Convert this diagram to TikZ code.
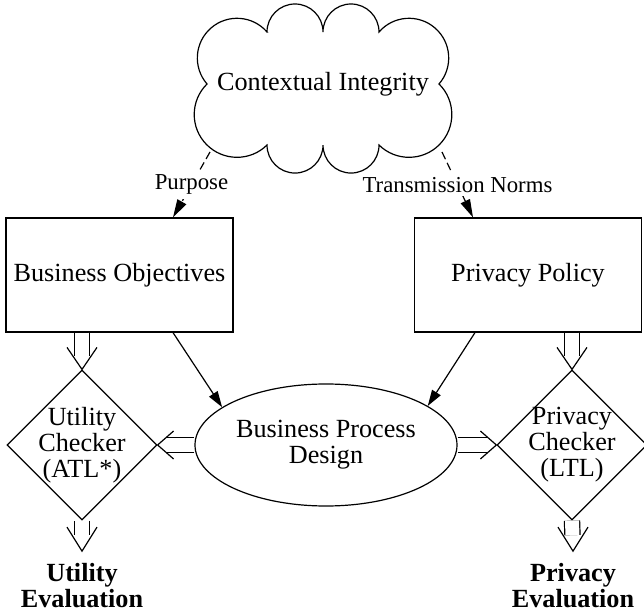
\documentclass[tikz,border=0pt]{standalone}
\usepackage{fontspec}
\setmainfont{Liberation Serif}
\usepackage{tikz}
\usetikzlibrary{shapes.geometric,arrows.meta}

\begin{document}
\begin{tikzpicture}[x=0.5pt,y=-0.5pt,
			line width=0.6pt,
			every node/.style={font=\fontsize{13.1pt}{13pt}\selectfont},
			box/.style={rectangle, draw, minimum width=113.5pt, minimum height=57pt, inner sep=0pt},
			proc/.style={ellipse, draw, align=center, minimum width=131pt, minimum height=61pt, inner sep=0pt},
			checker/.style={diamond, draw, align=center, minimum width=75pt, minimum height=75pt, inner sep=-2pt},
			result/.style={align=center, inner sep=6pt, font=\fontsize{13.1pt}{13pt}\selectfont\bfseries},
			edgelbl/.style={fill=white, inner sep=2pt, font=\fontsize{11.4pt}{12pt}\selectfont},
			cloudedge/.style={dash pattern=on 4pt off 2pt, -{Triangle[length=9pt,width=5pt]}},
			single/.style={-{Triangle[length=8pt,width=5pt]}},
			dbl/.style={double, double distance=7pt, shorten >=#1},
			dbl/.default=5pt,
			]
			\useasboundingbox (0,0) rectangle (644,615);
			%Nodes
				\node				(ci)			at (323,84)		{Contextual Integrity};
				\node[box]			(bizobj)		at (119.5,275)	{Business Objectives};
				\node[box]			(privpol)		at (528,275)	{Privacy Policy};
				\node[proc]		(bpd)			at (326,445)	{Business Process\\Design};
				\node[checker]		(utilchk)		at (82,445)		{Utility\\Checker\\(ATL*)};
				\node[checker]		(privchk)		at (572,445)	{Privacy\\Checker\\(LTL)};
				\node[result]		(utileval)		at (82,586)		{Utility\\Evaluation};
				\node[result]		(priveval)		at (573,586)	{Privacy\\Evaluation};

			%Cloud
				\draw (267,32) arc[start angle=180, end angle=360, radius=28]
					arc[start angle=180, end angle=360, radius=28]
					arc[start angle=220.9, end angle=400.9, radius=39.7]
					arc[start angle=-45.5, end angle=134.5, radius=42.8]
					arc[start angle=0, end angle=180, radius=28]
					arc[start angle=0, end angle=180, radius=28]
					arc[start angle=45.5, end angle=225.5, radius=42.8]
					arc[start angle=139.1, end angle=319.1, radius=39.7] -- cycle;
				\coordinate (ci-purpose)	at (210,152);
				\coordinate (ci-norms)		at (442,152);

			%Lines
				\draw[cloudedge] (ci-purpose) -- ([xshift=26.75pt]bizobj.north) node[edgelbl, midway] {Purpose};
				\draw[cloudedge] (ci-norms) -- ([xshift=-27.5pt]privpol.north) node[edgelbl, midway] {Transmission Norms};
				\draw[single] ([xshift=26.75pt]bizobj.south) -- (bpd.160);
				\draw[single] ([xshift=-26.5pt]privpol.south) -- (bpd.21);

				\draw[dbl=6.5pt] (bizobj.south -| utilchk.north) -- (utilchk.north);
				\draw ([shift={(-7.5pt,11pt)}]utilchk.north) -- (utilchk.north) -- ([shift={(7.5pt,11pt)}]utilchk.north);
				\draw[dbl=6.5pt] (privpol.south -| privchk.north) -- (privchk.north);
				\draw ([shift={(-7.5pt,11pt)}]privchk.north) -- (privchk.north) -- ([shift={(7.5pt,11pt)}]privchk.north);

				\draw[dbl=4pt] (bpd.west) -- (utilchk.east);
				\draw ([shift={(8pt,7pt)}]utilchk.east) -- (utilchk.east) -- ([shift={(8pt,-7pt)}]utilchk.east);
				\draw[dbl=4pt] (bpd.east) -- (privchk.west);
				\draw ([shift={(-8pt,7pt)}]privchk.west) -- (privchk.west) -- ([shift={(-8pt,-7pt)}]privchk.west);

				\draw[dbl=8pt] (utilchk.south) -- (utileval.north);
				\draw ([shift={(-7.5pt,12pt)}]utileval.north) -- (utileval.north) -- ([shift={(7.5pt,12pt)}]utileval.north);
				\draw[dbl=8pt] (privchk.south) -- (priveval.north);
				\draw ([shift={(-7.5pt,12pt)}]priveval.north) -- (priveval.north) -- ([shift={(7.5pt,12pt)}]priveval.north);
		\end{tikzpicture}
\end{document}
